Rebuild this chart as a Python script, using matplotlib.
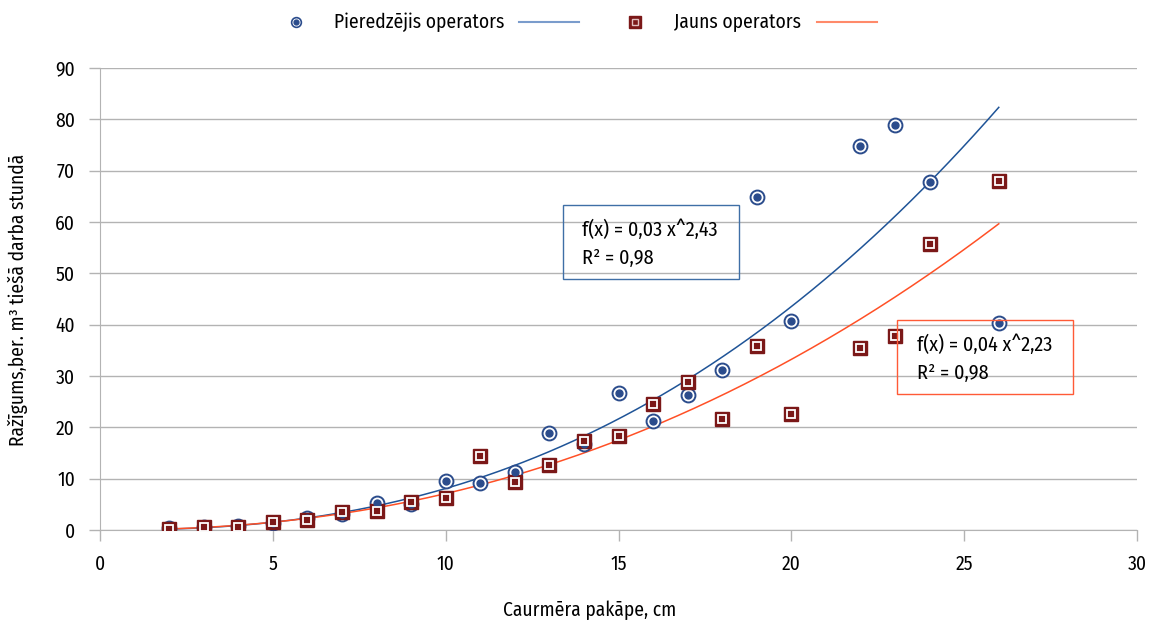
import matplotlib
matplotlib.use("Agg")
import matplotlib.pyplot as plt
import numpy as np
from matplotlib.lines import Line2D
from matplotlib.patches import Rectangle

plt.rcParams['font.family'] = ['Fira Sans Condensed', 'DejaVu Sans']

# data
caurmers = [2, 3, 4, 5, 6, 7, 8, 9, 10, 11, 12, 13, 14, 15, 16, 17, 18, 19, 20, 22, 23, 24, 26]
pieredzejis = [0.3, 0.6, 0.8, 1.4, 2.4, 3.2, 5.3, 5.1, 9.6, 9.2, 11.3, 18.9, 16.8, 26.7,
               21.2, 26.3, 31.2, 64.9, 40.7, 74.8, 78.9, 67.8, 40.3]
jauns = [0.2, 0.5, 0.6, 1.5, 2.0, 3.4, 3.6, 5.5, 6.3, 14.4, 9.3, 12.7, 17.3, 18.3,
         24.5, 28.8, 21.6, 35.8, 22.6, 35.4, 37.7, 55.7, 68.0]

# power trend lines f(x) = a * x^b
trend_blue = (0.0300, 2.43)
trend_red = (0.0417, 2.23)

x_ticks = [0, 5, 10, 15, 20, 25, 30]
y_ticks = [0, 10, 20, 30, 40, 50, 60, 70, 80, 90]

blue = '#2b4c8c'
blue_line = '#1f5497'
red = '#7b1818'
red_line = '#ff5026'
grid_c = '#b3b3b3'
fs = 14

fig = plt.figure(figsize=(11.49, 6.22), dpi=100)
ax = fig.add_axes([0.087, 0.148, 0.9026, 0.7428])

xx = np.linspace(min(caurmers), max(caurmers), 200)
ax.plot(xx, trend_blue[0] * xx ** trend_blue[1], color=blue_line, lw=1.1, zorder=3)
ax.plot(xx, trend_red[0] * xx ** trend_red[1], color=red_line, lw=1.1, zorder=3)

# experienced operator markers: ring + dot
ax.plot(caurmers, pieredzejis, 'o', ms=10, mfc='white', mec=blue, mew=1.4, zorder=4)
ax.plot(caurmers, pieredzejis, 'o', ms=5, mfc=blue, mec=blue, zorder=5)
# new operator markers: square with white inner frame
ax.plot(caurmers, jauns, 's', ms=10.5, mfc=red, mec=red, zorder=4)
ax.plot(caurmers, jauns, 's', ms=5.5, mfc=red, mec='white', mew=1.3, zorder=5)

ax.set_xlim(0, 30)
ax.set_ylim(0, 90)
ax.set_xticks(x_ticks)
ax.set_yticks(y_ticks)
ax.tick_params(axis='both', colors=grid_c, labelcolor='black', labelsize=fs,
               length=8, width=1)
ax.tick_params(axis='x', pad=10)
ax.tick_params(axis='y', pad=10)
ax.grid(axis='y', color=grid_c, lw=1)
ax.set_axisbelow(True)
for s in ['top', 'right']:
    ax.spines[s].set_visible(False)
for s in ['left', 'bottom']:
    ax.spines[s].set_color(grid_c)

ax.set_xlabel('Caurmēra pakāpe, cm', fontsize=fs)
ax.xaxis.set_label_coords(0.4725, -0.152)
ax.set_ylabel('Ražīgums,ber. m³ tiešā darba stundā', fontsize=fs)
ax.yaxis.set_label_coords(-0.0695, 0.498)

# equation boxes
ax.add_patch(Rectangle((0.4465, 0.5433), 0.1697, 0.160, transform=ax.transAxes,
                       fill=False, ec='#3f6fa6', lw=1, zorder=6))
ax.text(0.4648, 0.6710, 'f(x) = 0,03 x^2,43\nR² = 0,98', transform=ax.transAxes,
        fontsize=14.5, va='top', ha='left', linespacing=1.5, zorder=6)
ax.add_patch(Rectangle((0.7686, 0.2944), 0.1697, 0.160, transform=ax.transAxes,
                       fill=False, ec='#ff5a36', lw=1, zorder=6))
ax.text(0.7879, 0.4220, 'f(x) = 0,04 x^2,23\nR² = 0,98', transform=ax.transAxes,
        fontsize=14.5, va='top', ha='left', linespacing=1.5, zorder=6)

# legend on top
ly = 1 - 22 / 622
def fx(px):
    return px / 1149
fig.add_artist(Line2D([fx(296)], [ly], marker='o', ms=7, mfc='white', mec=blue, mew=1.2))
fig.add_artist(Line2D([fx(296)], [ly], marker='o', ms=3.5, mfc=blue, mec=blue))
fig.text(fx(334), ly, 'Pieredzējis operators', fontsize=fs, va='center', ha='left')
fig.add_artist(Line2D([fx(519), fx(579)], [ly, ly], color='#7a9ccc', lw=1.5))
fig.add_artist(Line2D([fx(635)], [ly], marker='s', ms=8, mfc=red, mec=red))
fig.add_artist(Line2D([fx(635)], [ly], marker='s', ms=4, mfc=red, mec='#e0c0c0', mew=1))
fig.text(fx(674), ly, 'Jauns operators', fontsize=fs, va='center', ha='left')
fig.add_artist(Line2D([fx(817), fx(877)], [ly, ly], color='#ff8a6a', lw=1.5))

fig.savefig('out.png', dpi=100)
